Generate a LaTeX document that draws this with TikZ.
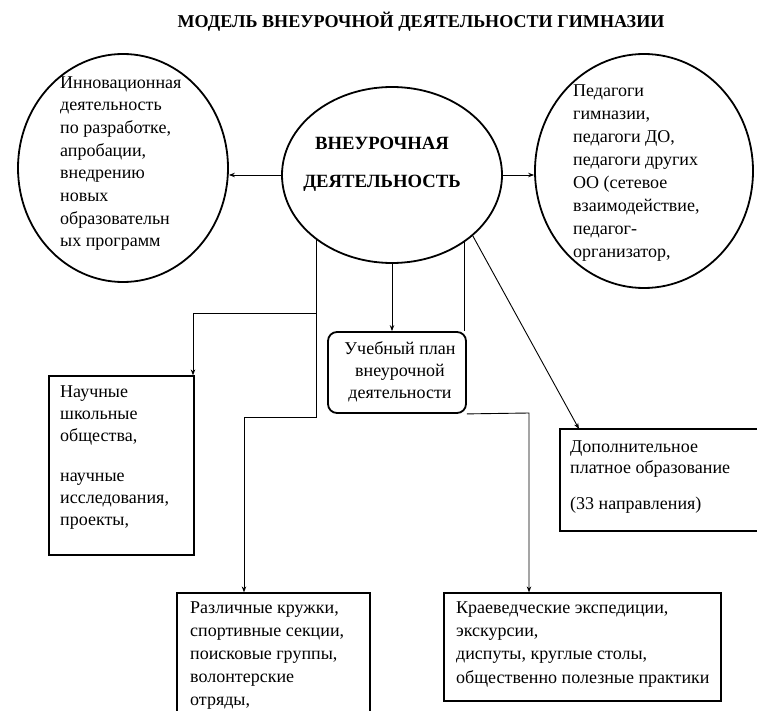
\documentclass[tikz,border=0pt]{standalone}
\usepackage{fontspec}
\setmainfont{Liberation Serif}
\usetikzlibrary{shapes.geometric,arrows.meta}
\tikzset{
  oval/.style = {draw, ellipse, line width = 1.8pt, inner sep = 0pt},
  plainbox/.style = {draw, rectangle, line width = 1.2pt, inner sep = 0pt},
  boxtext/.style = {anchor = base west, align = left, inner sep = 0pt, font = \fontsize{18}{23}\selectfont},
  link/.style = {line width = 0.9pt, -{Stealth[length = 6pt, width = 4.5pt]}},
}
\begin{document}
\begin{tikzpicture}[x = 1pt, y = -1pt]
      \useasboundingbox (0, 0) rectangle (757, 711);
      \clip (0, 0) rectangle (757, 711);
      \node [anchor = base, inner sep = 0pt, font = \fontsize{18.1}{20}\selectfont\bfseries] (title) at (421, 28)
        {МОДЕЛЬ ВНЕУРОЧНОЙ ДЕЯТЕЛЬНОСТИ ГИМНАЗИИ};
      % three ovals on top
      \node [oval, minimum width = 210, minimum height = 228] (innov) at (123, 168) {};
      \node [oval, minimum width = 218, minimum height = 234] (ped) at (644, 171) {};
      \node [oval, minimum width = 220, minimum height = 176] (vne) at (392, 175) {};
      \node [boxtext, font = \fontsize{18}{22.7}\selectfont] (innovtext) at (60, 247)
        {Инновационная\\деятельность\\по разработке,\\апробации,\\внедрению\\новых\\образовательн\\ых программ};
      \node [boxtext] (pedtext) at (573, 258)
        {Педагоги\\гимназии,\\педагоги ДО,\\педагоги других\\ОО (сетевое\\взаимодействие,\\педагог-\\организатор,};
      \node [anchor = base, align = center, inner sep = 0pt, font = \fontsize{18.7}{38}\selectfont\bfseries] (vnetext) at (382, 188)
        {ВНЕУРОЧНАЯ\\ДЕЯТЕЛЬНОСТЬ};
      % boxes below
      \node [plainbox, minimum width = 145, minimum height = 179] (nauch) at (121.5, 465.5) {};
      \node [plainbox, rounded corners = 9pt, line width = 1.8pt, minimum width = 138, minimum height = 81] (plan) at (397, 372.5) {};
      \node [plainbox, minimum width = 220, minimum height = 102] (dop) at (670, 480) {};
      \node [plainbox, minimum width = 193, minimum height = 147] (kruzh) at (273.5, 666.5) {};
      \node [plainbox, minimum width = 277, minimum height = 108] (kraev) at (582.5, 647) {};
      \node [boxtext, font = \fontsize{18}{22}\selectfont] (nauchtext) at (60, 525)
        {Научные\\школьные\\общества,\\[18pt]научные\\исследования,\\проекты,};
      \node [boxtext, anchor = base, align = center, font = \fontsize{18}{22}\selectfont] (plantext) at (400, 398)
        {Учебный план\\внеурочной\\деятельности};
      \node [boxtext, font = \fontsize{18}{21}\selectfont] (doptext) at (570, 509)
        {Дополнительное\\платное образование\\[15pt](33 направления)};
      \node [boxtext] (kruzhtext) at (190, 705)
        {Различные кружки,\\спортивные секции,\\поисковые группы,\\волонтерские\\отряды,};
      \node [boxtext, font = \fontsize{18}{23.3}\selectfont] (kraevtext) at (456, 683)
        {Краеведческие экспедиции,\\экскурсии,\\диспуты, круглые столы,\\общественно полезные практики};
      % connectors
      \coordinate (nauchturn) at (193, 313);
      \coordinate (kruzhturn) at (244, 417);
      \coordinate (kraevturn) at (529, 413);
      \coordinate (dopin) at (579, 429);
      \draw [link] (vne.west) -- (vne.west -| innov.east);
      \draw [link] (vne.east) -- (vne.east -| ped.west);
      \draw [link] (vne.-139) |- (nauchturn) -- (nauchturn |- nauch.north);
      \draw [link] (vne.-139) |- (kruzhturn) -- (kruzhturn |- kruzh.north);
      \draw [link] (vne.south) -- (vne.south |- plan.north);
      \draw [line width = 0.9pt] (vne.-43) -- (vne.-43 |- plan.north);
      \draw [link] (plan.south east) -- (kraevturn) -- (kraevturn |- kraev.north);
      \draw [link] (vne.-37) -- (dopin);
\end{tikzpicture}
\end{document}
